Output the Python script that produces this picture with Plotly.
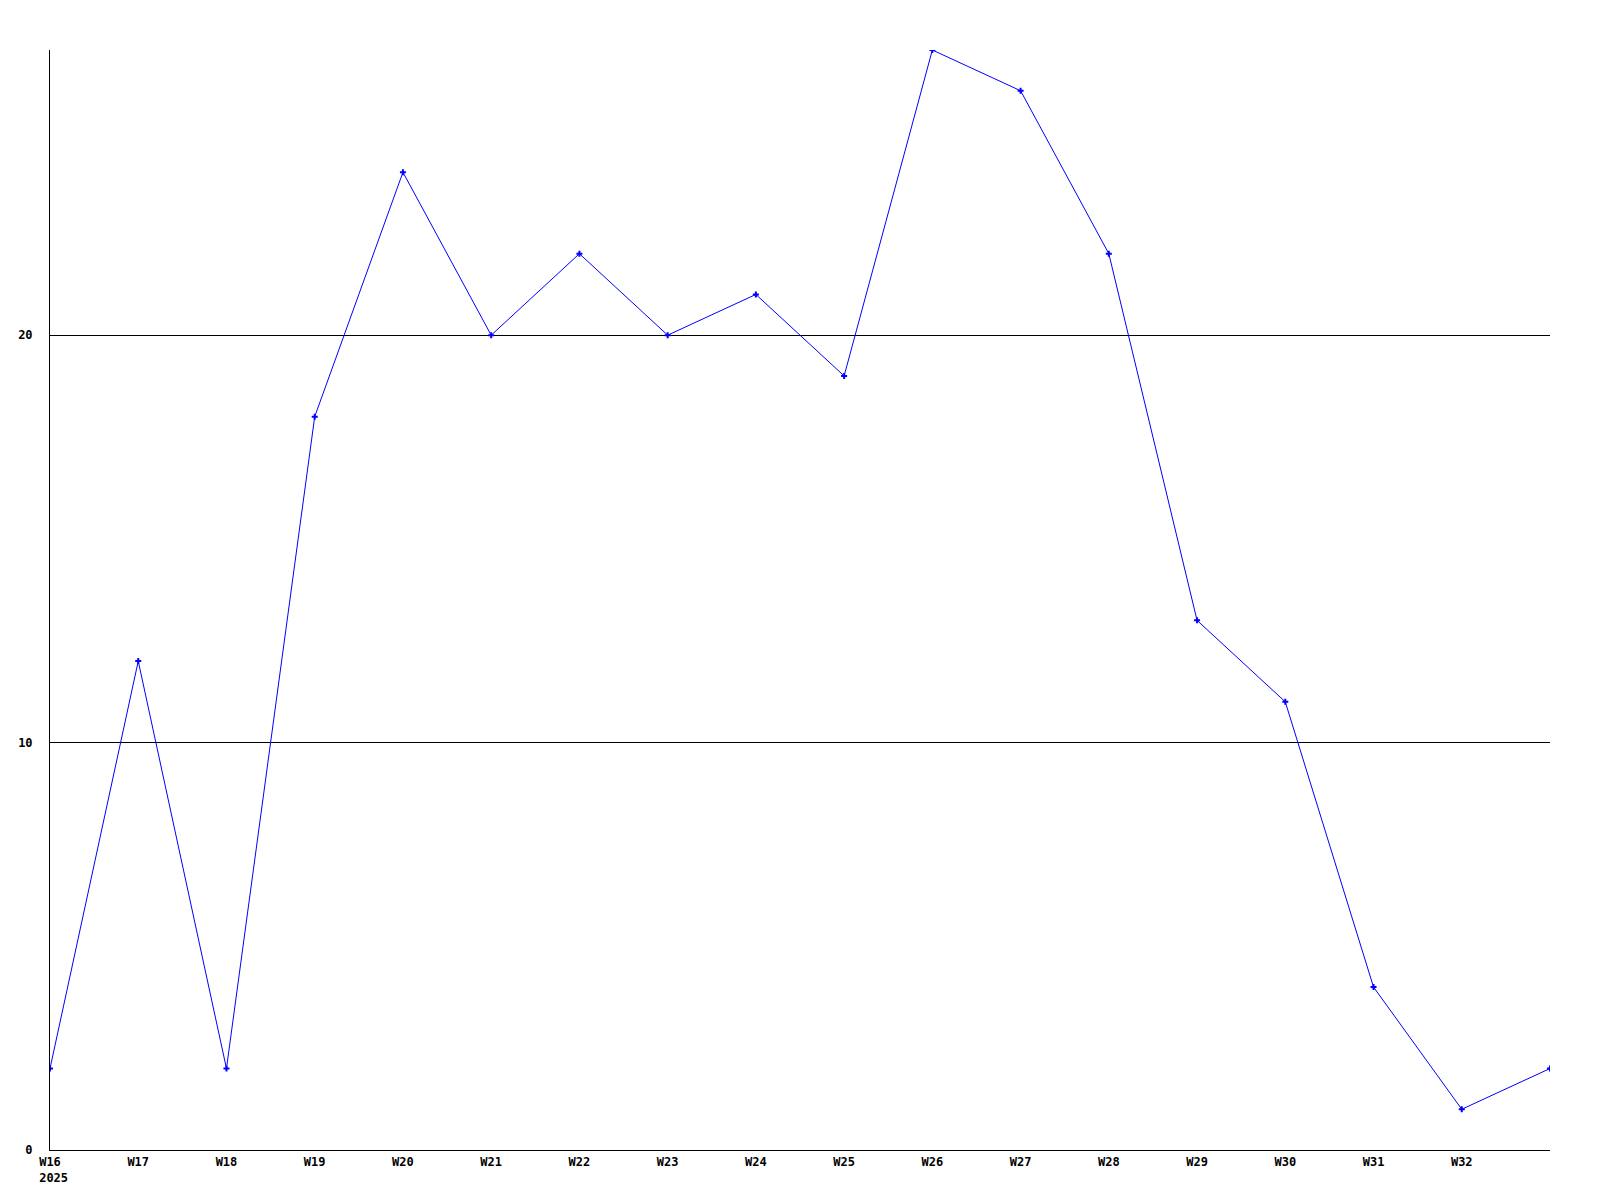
import plotly.graph_objects as go

weeks = ["W16", "W17", "W18", "W19", "W20", "W21", "W22", "W23", "W24",
         "W25", "W26", "W27", "W28", "W29", "W30", "W31", "W32", "W33"]
tick_labels = ["W16<br>\u00a02025", "W17", "W18", "W19", "W20", "W21", "W22", "W23", "W24",
               "W25", "W26", "W27", "W28", "W29", "W30", "W31", "W32"]
values = [2, 12, 2, 18, 24, 20, 22, 20, 21, 19, 27, 26, 22, 13, 11, 4, 1, 2]

xpos = list(range(len(weeks)))

fig = go.Figure()
fig.add_trace(go.Scatter(
    x=xpos, y=values, mode="lines+markers",
    line=dict(color="#0000ff", width=1),
    marker=dict(color="#0000ff", symbol="cross", size=5, line=dict(width=0)),
    hoverinfo="skip", showlegend=False,
))

font = dict(family="DejaVu Sans Mono", size=12, color="black")

fig.update_layout(
    width=1592, height=1192,
    margin=dict(l=42, r=50, t=42, b=50),
    paper_bgcolor="white", plot_bgcolor="white",
    font=font,
    xaxis=dict(
        range=[0, 17], tickvals=xpos[:-1], ticktext=["<b>%s</b>" % t for t in tick_labels],
        showgrid=False, zeroline=False, showline=True, linecolor="black", linewidth=1,
        ticks="", tickfont=font, ticklabelstandoff=1, automargin=False,
    ),
    yaxis=dict(
        range=[0, 27], tickvals=[0, 10, 20], ticktext=["<b>0</b>", "<b>10</b>", "<b>20</b>"],
        showgrid=True, gridcolor="black", gridwidth=1, zeroline=False,
        showline=True, linecolor="black", linewidth=1, ticks="", tickfont=font,
        ticklabelstandoff=14, automargin=False,
    ),
)

fig.write_html("out.html")
